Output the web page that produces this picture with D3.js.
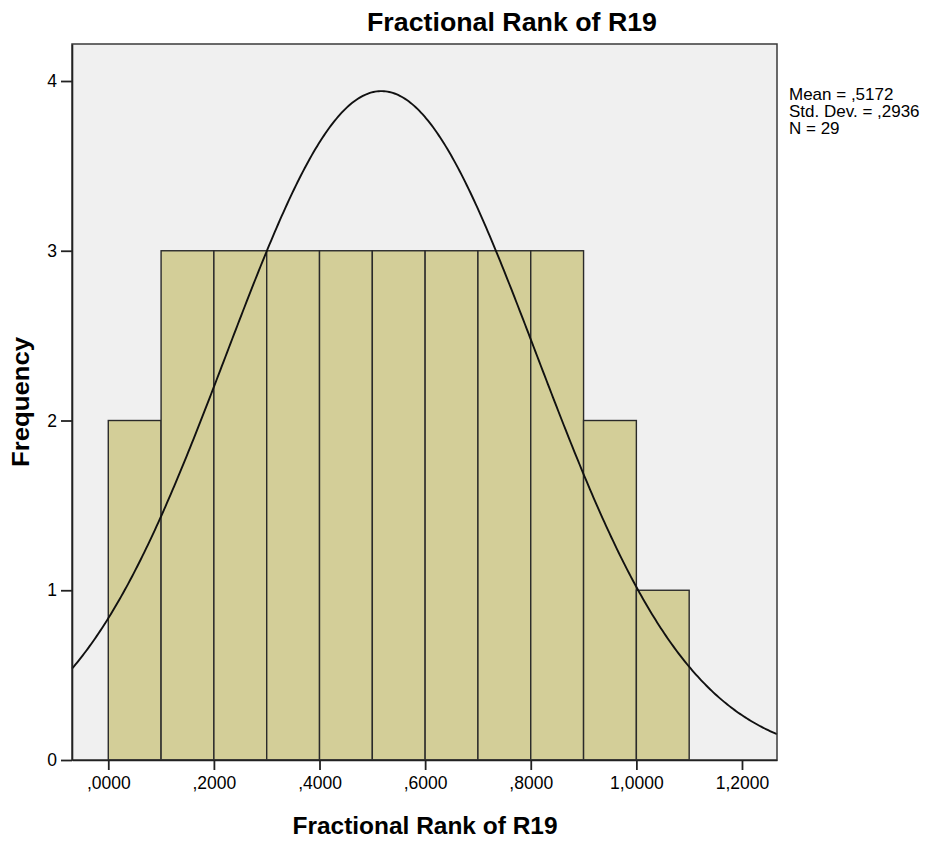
<!DOCTYPE html>
<html>
<head>
<meta charset="utf-8">
<script src="https://cdn.jsdelivr.net/npm/d3@7"></script>
<style>
  html, body { margin: 0; padding: 0; background: #fff; }
  svg { display: block; }
  text { font-family: "Liberation Sans", Arial, sans-serif; fill: #000; }
</style>
</head>
<body>
<svg id="chart" width="934" height="842"></svg>
<script>
// Histogram bins of the fractional rank (lower edges, width 0.1) and their counts
const binStarts = [0.0, 0.1, 0.2, 0.3, 0.4, 0.5, 0.6, 0.7, 0.8, 0.9, 1.0];
const frequencies = [2, 3, 3, 3, 3, 3, 3, 3, 3, 2, 1];
const binWidth = 0.1;

// Summary statistics shown beside the plot and used for the normal curve
const stats = { mean: 0.5172, sd: 0.2936, n: 29 };
const statLabels = ["Mean = ,5172", "Std. Dev. = ,2936", "N = 29"];

// Axis ticks
const xTicks = [0.0, 0.2, 0.4, 0.6, 0.8, 1.0, 1.2];
const yTicks = [0, 1, 2, 3, 4];

const title = "Fractional Rank of R19";
const xTitle = "Fractional Rank of R19";
const yTitle = "Frequency";

const svg = d3.select("#chart");
const plot = { left: 72, right: 777, top: 44, bottom: 760 };

const x = d3.scaleLinear().domain([-0.0687, 1.2663]).range([plot.left, plot.right]);
const y = d3.scaleLinear().domain([0, 4.218]).range([plot.bottom, plot.top]);

// Plot background
svg.append("rect")
  .attr("x", plot.left).attr("y", plot.top)
  .attr("width", plot.right - plot.left).attr("height", plot.bottom - plot.top)
  .attr("fill", "#f0f0f0");

// Bars
const bins = binStarts.map((s, i) => ({ x0: s, x1: s + binWidth, count: frequencies[i] }));
svg.append("g").selectAll("rect").data(bins).join("rect")
  .attr("x", d => x(d.x0))
  .attr("y", d => y(d.count))
  .attr("width", d => x(d.x1) - x(d.x0))
  .attr("height", d => y(0) - y(d.count))
  .attr("fill", "#d3ce98")
  .attr("stroke", "#2a2a2a")
  .attr("stroke-width", 1.4);

// Normal curve scaled to counts: N * binWidth * pdf
const pdf = v => Math.exp(-0.5 * ((v - stats.mean) / stats.sd) ** 2) / (stats.sd * Math.sqrt(2 * Math.PI));
const [d0, d1] = x.domain();
const curvePts = d3.range(0, 401).map(i => d0 + (d1 - d0) * i / 400);
svg.append("path")
  .datum(curvePts)
  .attr("fill", "none")
  .attr("stroke", "#111")
  .attr("stroke-width", 1.9)
  .attr("d", d3.line().x(v => x(v)).y(v => y(stats.n * binWidth * pdf(v))));

// Plot frame
svg.append("rect")
  .attr("x", plot.left).attr("y", plot.top)
  .attr("width", plot.right - plot.left).attr("height", plot.bottom - plot.top)
  .attr("fill", "none").attr("stroke", "#3a3a3a").attr("stroke-width", 1.5);

// Tick format: comma decimal separator, no leading zero
const fmt = v => {
  let s = d3.format(".4f")(v).replace(".", ",");
  return s.startsWith("0,") ? s.slice(1) : s;
};

const xAxis = svg.append("g")
  .attr("transform", `translate(0,${plot.bottom})`)
  .call(d3.axisBottom(x).tickValues(xTicks).tickFormat(fmt)
    .tickSizeInner(10).tickSizeOuter(0).tickPadding(7));
const yAxis = svg.append("g")
  .attr("transform", `translate(${plot.left},0)`)
  .call(d3.axisLeft(y).tickValues(yTicks).tickFormat(d3.format("d"))
    .tickSizeInner(11).tickSizeOuter(0).tickPadding(4));

[xAxis, yAxis].forEach(g => {
  g.attr("font-size", null).attr("font-family", null);
  g.select(".domain").attr("stroke", "#222").attr("stroke-width", 1.6);
  g.selectAll(".tick line").attr("stroke", "#222").attr("stroke-width", 1.8);
  g.selectAll(".tick text")
    .style("font-family", "'Liberation Sans', Arial, sans-serif")
    .style("font-size", "17.5px").attr("fill", "#111");
});

// Titles
svg.append("text")
  .attr("x", 512).attr("y", 31)
  .attr("text-anchor", "middle")
  .attr("font-size", 25).attr("font-weight", "bold")
  .attr("textLength", 290).attr("lengthAdjust", "spacingAndGlyphs")
  .text(title);

svg.append("text")
  .attr("x", 425).attr("y", 834)
  .attr("text-anchor", "middle")
  .attr("font-size", 23).attr("font-weight", "bold")
  .attr("textLength", 265).attr("lengthAdjust", "spacingAndGlyphs")
  .text(xTitle);

svg.append("text")
  .attr("transform", `translate(29,402) rotate(-90)`)
  .attr("text-anchor", "middle")
  .attr("font-size", 24).attr("font-weight", "bold")
  .attr("textLength", 130).attr("lengthAdjust", "spacingAndGlyphs")
  .text(yTitle);

// Statistics block
svg.append("g").selectAll("text").data(statLabels).join("text")
  .attr("x", 789)
  .attr("y", (d, i) => 99.5 + i * 17)
  .attr("font-size", 17)
  .attr("fill", "#111")
  .text(d => d);
</script>
</body>
</html>
